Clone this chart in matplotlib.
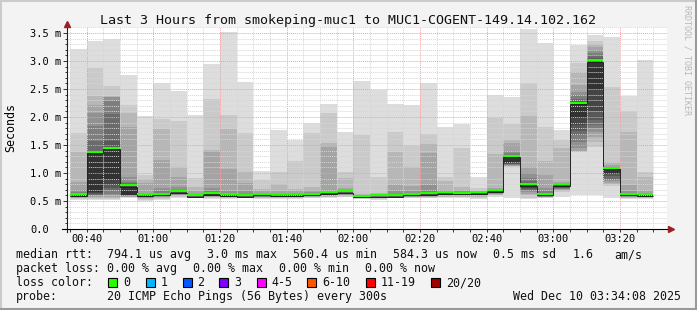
import numpy as np
import matplotlib
matplotlib.use('Agg')
import matplotlib.pyplot as plt
from matplotlib.transforms import offset_copy

plt.rcParams['font.family'] = ['DejaVu Sans Mono', 'DejaVu Sans']

# end time of each 5 minute round of 20 pings
bar_end = ['00:40', '00:45', '00:50', '00:55', '01:00', '01:05', '01:10', '01:15',
           '01:20', '01:25', '01:30', '01:35', '01:40', '01:45', '01:50', '01:55',
           '02:00', '02:05', '02:10', '02:15', '02:20', '02:25', '02:30', '02:35',
           '02:40', '02:45', '02:50', '02:55', '03:00', '03:05', '03:10', '03:15',
           '03:20', '03:25', '03:30']

# median rtt in ms
median_ms = [0.59, 1.35, 1.42, 0.755, 0.595, 0.607, 0.65, 0.575, 0.615, 0.59,
             0.575, 0.60, 0.595, 0.595, 0.607, 0.63, 0.65, 0.57, 0.577, 0.577,
             0.60, 0.613, 0.63, 0.62, 0.63, 0.667, 1.28, 0.774, 0.607, 0.77,
             2.23, 2.99, 1.065, 0.607, 0.595]

# upper pings (slowest first) = top edge of smoke band 1..10
smoke_top = [
    [3.21, 1.71, 1.38, 0.845, 0.70, 0.66, 0.63, 0.61, 0.60, 0.595],
    [3.36, 2.88, 2.38, 2.21, 2.08, 1.84, 1.57, 1.38, 1.37, 1.35],
    [3.39, 2.56, 2.38, 2.36, 2.35, 2.29, 2.05, 1.57, 1.45, 1.42],
    [2.75, 2.21, 2.08, 1.83, 0.93, 0.84, 0.815, 0.78, 0.765, 0.755],
    [2.02, 0.96, 0.89, 0.83, 0.64, 0.62, 0.61, 0.605, 0.60, 0.595],
    [2.60, 1.96, 1.79, 1.23, 0.73, 0.68, 0.65, 0.63, 0.62, 0.61],
    [2.46, 1.92, 1.10, 0.93, 0.75, 0.70, 0.68, 0.67, 0.66, 0.65],
    [2.04, 0.905, 0.75, 0.68, 0.62, 0.60, 0.59, 0.585, 0.58, 0.575],
    [2.94, 2.33, 1.41, 1.40, 0.74, 0.68, 0.66, 0.64, 0.63, 0.62],
    [3.51, 2.04, 1.79, 1.07, 0.68, 0.64, 0.62, 0.61, 0.60, 0.595],
    [2.62, 1.72, 1.02, 0.82, 0.68, 0.62, 0.60, 0.59, 0.58, 0.575],
    [1.04, 0.87, 0.72, 0.67, 0.64, 0.62, 0.61, 0.605, 0.60, 0.60],
    [1.77, 1.02, 0.80, 0.67, 0.63, 0.62, 0.61, 0.60, 0.60, 0.595],
    [1.59, 1.21, 0.71, 0.68, 0.64, 0.62, 0.61, 0.60, 0.60, 0.595],
    [1.90, 1.72, 0.75, 0.70, 0.66, 0.64, 0.63, 0.62, 0.61, 0.607],
    [2.23, 2.08, 1.53, 1.47, 0.68, 0.66, 0.65, 0.64, 0.635, 0.63],
    [1.73, 1.01, 0.905, 0.73, 0.69, 0.67, 0.66, 0.655, 0.65, 0.65],
    [2.64, 1.68, 0.62, 0.60, 0.59, 0.585, 0.58, 0.575, 0.57, 0.57],
    [2.48, 0.92, 0.65, 0.62, 0.60, 0.59, 0.585, 0.58, 0.58, 0.577],
    [2.23, 1.74, 1.38, 0.79, 0.67, 0.62, 0.60, 0.59, 0.58, 0.577],
    [2.21, 1.49, 1.11, 0.76, 0.67, 0.64, 0.62, 0.61, 0.605, 0.60],
    [2.60, 1.70, 1.52, 1.36, 0.79, 0.68, 0.65, 0.63, 0.62, 0.613],
    [1.83, 0.93, 0.86, 0.70, 0.67, 0.65, 0.64, 0.635, 0.63, 0.63],
    [1.88, 1.44, 0.756, 0.70, 0.67, 0.65, 0.64, 0.63, 0.625, 0.62],
    [0.92, 0.73, 0.68, 0.66, 0.65, 0.645, 0.64, 0.635, 0.63, 0.63],
    [2.40, 1.98, 1.34, 0.73, 0.70, 0.69, 0.68, 0.675, 0.67, 0.667],
    [2.35, 1.88, 1.59, 1.53, 1.40, 1.35, 1.32, 1.30, 1.29, 1.28],
    [3.58, 2.60, 2.02, 1.11, 1.00, 0.905, 0.85, 0.80, 0.78, 0.774],
    [3.32, 1.83, 1.21, 0.96, 0.73, 0.68, 0.65, 0.63, 0.62, 0.61],
    [1.77, 1.59, 1.44, 0.845, 0.82, 0.80, 0.79, 0.78, 0.775, 0.77],
    [3.29, 2.96, 2.81, 2.57, 2.45, 2.39, 2.33, 2.29, 2.26, 2.23],
    [3.46, 3.36, 3.30, 3.25, 3.20, 3.15, 3.10, 3.05, 3.02, 2.99],
    [3.42, 2.54, 1.20, 1.14, 1.10, 1.09, 1.08, 1.075, 1.07, 1.065],
    [2.37, 2.11, 1.73, 0.79, 0.68, 0.65, 0.63, 0.62, 0.61, 0.607],
    [3.02, 1.02, 0.92, 0.67, 0.64, 0.62, 0.61, 0.60, 0.60, 0.595],
]

# lower pings (fastest first) = bottom edge of smoke band 1..10
smoke_bot = [
    [0.52, 0.54, 0.55, 0.56, 0.57, 0.575, 0.58, 0.585, 0.59, 0.59],
    [0.52, 0.54, 0.56, 0.58, 0.59, 0.60, 0.61, 0.62, 0.635, 0.66],
    [0.52, 0.54, 0.56, 0.58, 0.60, 0.63, 0.70, 0.74, 0.786, 0.875],
    [0.56, 0.565, 0.57, 0.58, 0.59, 0.595, 0.60, 0.605, 0.61, 0.615],
    [0.50, 0.52, 0.54, 0.55, 0.56, 0.57, 0.575, 0.58, 0.585, 0.59],
    [0.52, 0.54, 0.56, 0.57, 0.58, 0.59, 0.595, 0.60, 0.60, 0.605],
    [0.55, 0.57, 0.59, 0.60, 0.61, 0.62, 0.63, 0.635, 0.64, 0.645],
    [0.55, 0.555, 0.56, 0.562, 0.565, 0.567, 0.57, 0.57, 0.572, 0.573],
    [0.53, 0.55, 0.57, 0.58, 0.59, 0.595, 0.60, 0.605, 0.61, 0.61],
    [0.535, 0.55, 0.56, 0.565, 0.57, 0.575, 0.58, 0.585, 0.585, 0.59],
    [0.55, 0.555, 0.56, 0.562, 0.565, 0.567, 0.57, 0.57, 0.572, 0.573],
    [0.535, 0.55, 0.56, 0.57, 0.575, 0.58, 0.585, 0.59, 0.595, 0.595],
    [0.54, 0.55, 0.56, 0.57, 0.575, 0.58, 0.585, 0.59, 0.59, 0.59],
    [0.54, 0.55, 0.56, 0.57, 0.575, 0.58, 0.585, 0.59, 0.59, 0.59],
    [0.55, 0.56, 0.57, 0.58, 0.585, 0.59, 0.595, 0.60, 0.60, 0.605],
    [0.56, 0.57, 0.58, 0.59, 0.60, 0.605, 0.61, 0.615, 0.62, 0.625],
    [0.57, 0.58, 0.59, 0.60, 0.61, 0.62, 0.63, 0.635, 0.64, 0.645],
    [0.535, 0.54, 0.545, 0.55, 0.555, 0.56, 0.56, 0.565, 0.565, 0.567],
    [0.52, 0.54, 0.55, 0.555, 0.56, 0.565, 0.57, 0.57, 0.572, 0.575],
    [0.55, 0.555, 0.56, 0.562, 0.565, 0.567, 0.57, 0.572, 0.574, 0.575],
    [0.55, 0.56, 0.57, 0.575, 0.58, 0.585, 0.59, 0.59, 0.595, 0.595],
    [0.55, 0.56, 0.57, 0.58, 0.59, 0.595, 0.60, 0.605, 0.61, 0.61],
    [0.56, 0.57, 0.58, 0.59, 0.60, 0.605, 0.61, 0.615, 0.62, 0.625],
    [0.56, 0.57, 0.58, 0.59, 0.60, 0.605, 0.61, 0.61, 0.615, 0.615],
    [0.535, 0.56, 0.58, 0.59, 0.60, 0.605, 0.61, 0.615, 0.62, 0.625],
    [0.58, 0.60, 0.61, 0.62, 0.63, 0.64, 0.645, 0.65, 0.655, 0.66],
    [0.55, 1.10, 1.12, 1.13, 1.14, 1.15, 1.16, 1.165, 1.17, 1.18],
    [0.535, 0.56, 0.60, 0.63, 0.66, 0.68, 0.70, 0.72, 0.74, 0.75],
    [0.55, 0.56, 0.565, 0.57, 0.575, 0.58, 0.585, 0.59, 0.595, 0.60],
    [0.58, 0.66, 0.68, 0.70, 0.71, 0.72, 0.73, 0.74, 0.745, 0.75],
    [0.607, 1.37, 1.38, 1.40, 1.45, 1.55, 1.68, 1.75, 1.86, 2.00],
    [0.60, 1.47, 1.55, 1.65, 1.74, 1.80, 1.86, 1.95, 2.10, 2.50],
    [0.55, 0.76, 0.80, 0.83, 0.85, 0.87, 0.90, 0.95, 0.98, 1.00],
    [0.535, 0.55, 0.56, 0.57, 0.58, 0.585, 0.59, 0.595, 0.60, 0.60],
    [0.54, 0.55, 0.56, 0.57, 0.575, 0.58, 0.585, 0.59, 0.59, 0.59],
]

x_ticks = ['00:40', '01:00', '01:20', '01:40', '02:00', '02:20', '02:40', '03:00', '03:20']
y_ticks = [0.0, 0.5, 1.0, 1.5, 2.0, 2.5, 3.0, 3.5]
y_labels = ['0.0', '0.5 m', '1.0 m', '1.5 m', '2.0 m', '2.5 m', '3.0 m', '3.5 m']

loss_labels = ['0', '1', '2', '3', '4-5', '6-10', '11-19', '20/20']
loss_colors = ['#26ff00', '#00b8ff', '#0059ff', '#7e00ff', '#ff00ff', '#ff5500', '#ff0000', '#a00000']

# smokeping shades, outer band lightest
smoke_grays = ['#dddddd', '#cacaca', '#b7b7b7', '#a4a4a4', '#919191',
               '#7e7e7e', '#6b6b6b', '#585858', '#454545', '#323232']


def minutes(s):
    h, m = s.split(':')
    return int(h) * 60 + int(m)


W, H = 697, 310
fx = lambda px: px / W
fy = lambda py: 1 - py / H

t_start = 34 + 8 / 60
t_end = t_start + 180

fig = plt.figure(figsize=(W / 100, H / 100), dpi=100, facecolor='#f3f3f3')
ax = fig.add_axes([fx(67), fy(229), 600 / W, 201.6 / H])
ax.set_facecolor('white')

ends = np.array([minutes(t) for t in bar_end], dtype=float)
lefts = np.maximum(ends - 5, t_start)
top = np.array(smoke_top)
bot = np.array(smoke_bot)
for k in range(10):
    ax.bar(lefts, top[:, k] - bot[:, k], bottom=bot[:, k], width=ends - lefts,
           align='edge', color=smoke_grays[k], linewidth=0, antialiased=False, zorder=1)

med = np.array(median_ms)
ax.stairs(med, np.r_[lefts[0], ends], baseline=None, color='#222222', lw=0.7, zorder=3)
green_tr = offset_copy(ax.transData, fig=fig, x=0, y=1.5, units='dots')
ax.hlines(med, lefts, ends, colors='#26ff00', lw=1.5, transform=green_tr, zorder=4)

ax.set_xlim(t_start, t_end)
ax.set_ylim(0, 3.6)
ax.set_xticks([minutes(t) for t in x_ticks])
ax.set_xticklabels(x_ticks)
ax.set_xticks(np.arange(35, 215, 5), minor=True)
ax.set_yticks(y_ticks)
ax.set_yticklabels(y_labels)
ax.set_yticks(np.arange(0.1, 3.61, 0.1), minor=True)

ax.set_axisbelow(False)
ax.grid(which='minor', color='#d6d6d6', ls=(0, (1, 1)), lw=0.7)
ax.grid(which='major', color='#f2a0a0', ls=(0, (1, 1)), lw=0.7)

ax.tick_params(axis='x', which='both', direction='out', length=2, width=0.7,
               color='#333333', labelsize=7.5, pad=7.1)
ax.tick_params(axis='y', which='major', direction='out', length=3, width=0.7,
               color='#333333', labelsize=7.5, pad=23.6)
ax.tick_params(axis='y', which='minor', direction='out', length=1.5, width=0.7,
               color='#333333')
for lbl in ax.get_xticklabels():
    lbl.set_va('baseline')
for lbl in ax.get_yticklabels():
    lbl.set_ha('left')

for s in ax.spines.values():
    s.set_visible(False)

ax.plot([0, 0], [-0.013, 1.01], transform=ax.transAxes, color='#202020', lw=0.8, clip_on=False, zorder=5)
ax.plot([-0.0083, 1.004], [0, 0], transform=ax.transAxes, color='#000000', lw=0.8, clip_on=False, zorder=5)
ax.plot([1.0065], [0], marker='>', ms=4.5, color='#9c2222', transform=ax.transAxes, clip_on=False, zorder=6)
ax.plot([0], [1.018], marker='^', ms=4.5, color='#9c2222', transform=ax.transAxes, clip_on=False, zorder=6)

fig.text(fx(347.5), fy(24), 'Last 3 Hours from smokeping-muc1 to MUC1-COGENT-149.14.102.162',
         ha='center', va='baseline', fontsize=9.6, color='#111111')
fig.text(fx(10.7), fy(127.5), 'Seconds', rotation=90, ha='center', va='center', fontsize=8.4)
fig.text(fx(687.5), fy(5), 'RRDTOOL / TOBI OETIKER', rotation=270, ha='center', va='top',
         fontsize=6, color='#b8b8b8')

legend_rows = [
    (258, [(16, 'median rtt:'), (107.3, '794.1 us avg'), (207.3, '3.0 ms max'),
           (293.3, '560.4 us min'), (393.3, '584.3 us now'), (493.3, '0.5 ms sd'),
           (572.3, '1.6'), (614, 'am/s')]),
    (272, [(16, 'packet loss:'), (107.3, '0.00 % avg'), (193.3, '0.00 % max'),
           (279.3, '0.00 % min'), (365.3, '0.00 % now')]),
    (286, [(16, 'loss color:')]),
    (300, [(16, 'probe:'), (107.3, '20 ICMP Echo Pings (56 Bytes) every 300s'),
           (512.7, 'Wed Dec 10 03:34:08 2025')]),
]
for yb, items in legend_rows:
    for xp, txt in items:
        fig.text(fx(xp), fy(yb), txt, ha='left', va='baseline', fontsize=8.4, color='#111111')

sq_x = [108.3, 145.7, 182.7, 219.3, 256.7, 307.3, 365.7, 430.7]
lab_x = [123.3, 161, 197.3, 234.3, 271, 322.3, 380.7, 446]
for xs, xl, lab, col in zip(sq_x, lab_x, loss_labels, loss_colors):
    fig.add_artist(plt.Rectangle((fx(xs), fy(286.7)), 9 / W, 9 / H, transform=fig.transFigure,
                                 facecolor=col, edgecolor='black', lw=0.8))
    fig.text(fx(xl), fy(286), lab, ha='left', va='baseline', fontsize=8.4, color='#111111')

# 3d frame
fig.add_artist(plt.Line2D([0, 1], [fy(1), fy(1)], transform=fig.transFigure, color='#cbcbcb', lw=1.5))
fig.add_artist(plt.Line2D([fx(1), fx(1)], [0, 1], transform=fig.transFigure, color='#cbcbcb', lw=1.5))
fig.add_artist(plt.Line2D([0, 1], [fy(309), fy(309)], transform=fig.transFigure, color='#999999', lw=1.5))
fig.add_artist(plt.Line2D([fx(696), fx(696)], [0, 1], transform=fig.transFigure, color='#999999', lw=1.5))

fig.savefig('out.png', dpi=100, facecolor=fig.get_facecolor())
